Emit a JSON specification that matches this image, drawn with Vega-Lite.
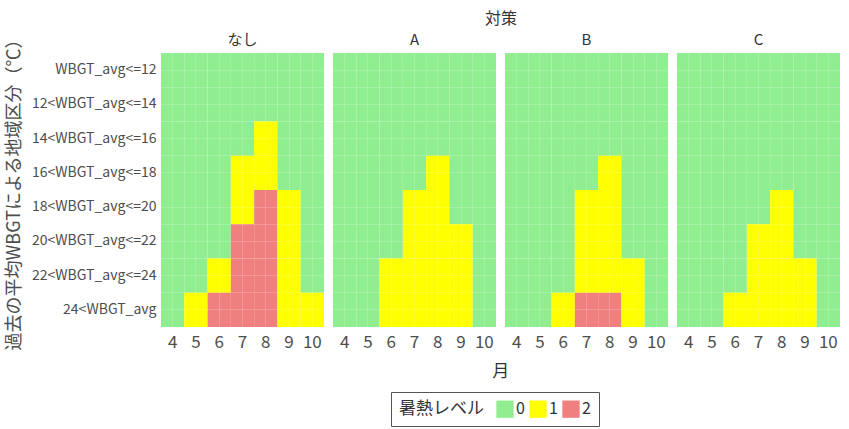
{
"$schema": "https://vega.github.io/schema/vega-lite/v6.json",
"padding": {"left": 5, "top": 11, "right": 8, "bottom": 3},
"title": {"text": "月", "orient": "bottom", "anchor": "middle", "fontSize": 17, "fontWeight": "normal", "color": "#333333", "font": "Noto Sans CJK JP", "offset": -63, "dx": 78},
"data": {"values": [
{"group":"なし","month":4,"zone":"WBGT_avg<=12","level":0},
{"group":"なし","month":4,"zone":"12<WBGT_avg<=14","level":0},
{"group":"なし","month":4,"zone":"14<WBGT_avg<=16","level":0},
{"group":"なし","month":4,"zone":"16<WBGT_avg<=18","level":0},
{"group":"なし","month":4,"zone":"18<WBGT_avg<=20","level":0},
{"group":"なし","month":4,"zone":"20<WBGT_avg<=22","level":0},
{"group":"なし","month":4,"zone":"22<WBGT_avg<=24","level":0},
{"group":"なし","month":4,"zone":"24<WBGT_avg","level":0},
{"group":"なし","month":5,"zone":"WBGT_avg<=12","level":0},
{"group":"なし","month":5,"zone":"12<WBGT_avg<=14","level":0},
{"group":"なし","month":5,"zone":"14<WBGT_avg<=16","level":0},
{"group":"なし","month":5,"zone":"16<WBGT_avg<=18","level":0},
{"group":"なし","month":5,"zone":"18<WBGT_avg<=20","level":0},
{"group":"なし","month":5,"zone":"20<WBGT_avg<=22","level":0},
{"group":"なし","month":5,"zone":"22<WBGT_avg<=24","level":0},
{"group":"なし","month":5,"zone":"24<WBGT_avg","level":1},
{"group":"なし","month":6,"zone":"WBGT_avg<=12","level":0},
{"group":"なし","month":6,"zone":"12<WBGT_avg<=14","level":0},
{"group":"なし","month":6,"zone":"14<WBGT_avg<=16","level":0},
{"group":"なし","month":6,"zone":"16<WBGT_avg<=18","level":0},
{"group":"なし","month":6,"zone":"18<WBGT_avg<=20","level":0},
{"group":"なし","month":6,"zone":"20<WBGT_avg<=22","level":0},
{"group":"なし","month":6,"zone":"22<WBGT_avg<=24","level":1},
{"group":"なし","month":6,"zone":"24<WBGT_avg","level":2},
{"group":"なし","month":7,"zone":"WBGT_avg<=12","level":0},
{"group":"なし","month":7,"zone":"12<WBGT_avg<=14","level":0},
{"group":"なし","month":7,"zone":"14<WBGT_avg<=16","level":0},
{"group":"なし","month":7,"zone":"16<WBGT_avg<=18","level":1},
{"group":"なし","month":7,"zone":"18<WBGT_avg<=20","level":1},
{"group":"なし","month":7,"zone":"20<WBGT_avg<=22","level":2},
{"group":"なし","month":7,"zone":"22<WBGT_avg<=24","level":2},
{"group":"なし","month":7,"zone":"24<WBGT_avg","level":2},
{"group":"なし","month":8,"zone":"WBGT_avg<=12","level":0},
{"group":"なし","month":8,"zone":"12<WBGT_avg<=14","level":0},
{"group":"なし","month":8,"zone":"14<WBGT_avg<=16","level":1},
{"group":"なし","month":8,"zone":"16<WBGT_avg<=18","level":1},
{"group":"なし","month":8,"zone":"18<WBGT_avg<=20","level":2},
{"group":"なし","month":8,"zone":"20<WBGT_avg<=22","level":2},
{"group":"なし","month":8,"zone":"22<WBGT_avg<=24","level":2},
{"group":"なし","month":8,"zone":"24<WBGT_avg","level":2},
{"group":"なし","month":9,"zone":"WBGT_avg<=12","level":0},
{"group":"なし","month":9,"zone":"12<WBGT_avg<=14","level":0},
{"group":"なし","month":9,"zone":"14<WBGT_avg<=16","level":0},
{"group":"なし","month":9,"zone":"16<WBGT_avg<=18","level":0},
{"group":"なし","month":9,"zone":"18<WBGT_avg<=20","level":1},
{"group":"なし","month":9,"zone":"20<WBGT_avg<=22","level":1},
{"group":"なし","month":9,"zone":"22<WBGT_avg<=24","level":1},
{"group":"なし","month":9,"zone":"24<WBGT_avg","level":1},
{"group":"なし","month":10,"zone":"WBGT_avg<=12","level":0},
{"group":"なし","month":10,"zone":"12<WBGT_avg<=14","level":0},
{"group":"なし","month":10,"zone":"14<WBGT_avg<=16","level":0},
{"group":"なし","month":10,"zone":"16<WBGT_avg<=18","level":0},
{"group":"なし","month":10,"zone":"18<WBGT_avg<=20","level":0},
{"group":"なし","month":10,"zone":"20<WBGT_avg<=22","level":0},
{"group":"なし","month":10,"zone":"22<WBGT_avg<=24","level":0},
{"group":"なし","month":10,"zone":"24<WBGT_avg","level":1},
{"group":"A","month":4,"zone":"WBGT_avg<=12","level":0},
{"group":"A","month":4,"zone":"12<WBGT_avg<=14","level":0},
{"group":"A","month":4,"zone":"14<WBGT_avg<=16","level":0},
{"group":"A","month":4,"zone":"16<WBGT_avg<=18","level":0},
{"group":"A","month":4,"zone":"18<WBGT_avg<=20","level":0},
{"group":"A","month":4,"zone":"20<WBGT_avg<=22","level":0},
{"group":"A","month":4,"zone":"22<WBGT_avg<=24","level":0},
{"group":"A","month":4,"zone":"24<WBGT_avg","level":0},
{"group":"A","month":5,"zone":"WBGT_avg<=12","level":0},
{"group":"A","month":5,"zone":"12<WBGT_avg<=14","level":0},
{"group":"A","month":5,"zone":"14<WBGT_avg<=16","level":0},
{"group":"A","month":5,"zone":"16<WBGT_avg<=18","level":0},
{"group":"A","month":5,"zone":"18<WBGT_avg<=20","level":0},
{"group":"A","month":5,"zone":"20<WBGT_avg<=22","level":0},
{"group":"A","month":5,"zone":"22<WBGT_avg<=24","level":0},
{"group":"A","month":5,"zone":"24<WBGT_avg","level":0},
{"group":"A","month":6,"zone":"WBGT_avg<=12","level":0},
{"group":"A","month":6,"zone":"12<WBGT_avg<=14","level":0},
{"group":"A","month":6,"zone":"14<WBGT_avg<=16","level":0},
{"group":"A","month":6,"zone":"16<WBGT_avg<=18","level":0},
{"group":"A","month":6,"zone":"18<WBGT_avg<=20","level":0},
{"group":"A","month":6,"zone":"20<WBGT_avg<=22","level":0},
{"group":"A","month":6,"zone":"22<WBGT_avg<=24","level":1},
{"group":"A","month":6,"zone":"24<WBGT_avg","level":1},
{"group":"A","month":7,"zone":"WBGT_avg<=12","level":0},
{"group":"A","month":7,"zone":"12<WBGT_avg<=14","level":0},
{"group":"A","month":7,"zone":"14<WBGT_avg<=16","level":0},
{"group":"A","month":7,"zone":"16<WBGT_avg<=18","level":0},
{"group":"A","month":7,"zone":"18<WBGT_avg<=20","level":1},
{"group":"A","month":7,"zone":"20<WBGT_avg<=22","level":1},
{"group":"A","month":7,"zone":"22<WBGT_avg<=24","level":1},
{"group":"A","month":7,"zone":"24<WBGT_avg","level":1},
{"group":"A","month":8,"zone":"WBGT_avg<=12","level":0},
{"group":"A","month":8,"zone":"12<WBGT_avg<=14","level":0},
{"group":"A","month":8,"zone":"14<WBGT_avg<=16","level":0},
{"group":"A","month":8,"zone":"16<WBGT_avg<=18","level":1},
{"group":"A","month":8,"zone":"18<WBGT_avg<=20","level":1},
{"group":"A","month":8,"zone":"20<WBGT_avg<=22","level":1},
{"group":"A","month":8,"zone":"22<WBGT_avg<=24","level":1},
{"group":"A","month":8,"zone":"24<WBGT_avg","level":1},
{"group":"A","month":9,"zone":"WBGT_avg<=12","level":0},
{"group":"A","month":9,"zone":"12<WBGT_avg<=14","level":0},
{"group":"A","month":9,"zone":"14<WBGT_avg<=16","level":0},
{"group":"A","month":9,"zone":"16<WBGT_avg<=18","level":0},
{"group":"A","month":9,"zone":"18<WBGT_avg<=20","level":0},
{"group":"A","month":9,"zone":"20<WBGT_avg<=22","level":1},
{"group":"A","month":9,"zone":"22<WBGT_avg<=24","level":1},
{"group":"A","month":9,"zone":"24<WBGT_avg","level":1},
{"group":"A","month":10,"zone":"WBGT_avg<=12","level":0},
{"group":"A","month":10,"zone":"12<WBGT_avg<=14","level":0},
{"group":"A","month":10,"zone":"14<WBGT_avg<=16","level":0},
{"group":"A","month":10,"zone":"16<WBGT_avg<=18","level":0},
{"group":"A","month":10,"zone":"18<WBGT_avg<=20","level":0},
{"group":"A","month":10,"zone":"20<WBGT_avg<=22","level":0},
{"group":"A","month":10,"zone":"22<WBGT_avg<=24","level":0},
{"group":"A","month":10,"zone":"24<WBGT_avg","level":0},
{"group":"B","month":4,"zone":"WBGT_avg<=12","level":0},
{"group":"B","month":4,"zone":"12<WBGT_avg<=14","level":0},
{"group":"B","month":4,"zone":"14<WBGT_avg<=16","level":0},
{"group":"B","month":4,"zone":"16<WBGT_avg<=18","level":0},
{"group":"B","month":4,"zone":"18<WBGT_avg<=20","level":0},
{"group":"B","month":4,"zone":"20<WBGT_avg<=22","level":0},
{"group":"B","month":4,"zone":"22<WBGT_avg<=24","level":0},
{"group":"B","month":4,"zone":"24<WBGT_avg","level":0},
{"group":"B","month":5,"zone":"WBGT_avg<=12","level":0},
{"group":"B","month":5,"zone":"12<WBGT_avg<=14","level":0},
{"group":"B","month":5,"zone":"14<WBGT_avg<=16","level":0},
{"group":"B","month":5,"zone":"16<WBGT_avg<=18","level":0},
{"group":"B","month":5,"zone":"18<WBGT_avg<=20","level":0},
{"group":"B","month":5,"zone":"20<WBGT_avg<=22","level":0},
{"group":"B","month":5,"zone":"22<WBGT_avg<=24","level":0},
{"group":"B","month":5,"zone":"24<WBGT_avg","level":0},
{"group":"B","month":6,"zone":"WBGT_avg<=12","level":0},
{"group":"B","month":6,"zone":"12<WBGT_avg<=14","level":0},
{"group":"B","month":6,"zone":"14<WBGT_avg<=16","level":0},
{"group":"B","month":6,"zone":"16<WBGT_avg<=18","level":0},
{"group":"B","month":6,"zone":"18<WBGT_avg<=20","level":0},
{"group":"B","month":6,"zone":"20<WBGT_avg<=22","level":0},
{"group":"B","month":6,"zone":"22<WBGT_avg<=24","level":0},
{"group":"B","month":6,"zone":"24<WBGT_avg","level":1},
{"group":"B","month":7,"zone":"WBGT_avg<=12","level":0},
{"group":"B","month":7,"zone":"12<WBGT_avg<=14","level":0},
{"group":"B","month":7,"zone":"14<WBGT_avg<=16","level":0},
{"group":"B","month":7,"zone":"16<WBGT_avg<=18","level":0},
{"group":"B","month":7,"zone":"18<WBGT_avg<=20","level":1},
{"group":"B","month":7,"zone":"20<WBGT_avg<=22","level":1},
{"group":"B","month":7,"zone":"22<WBGT_avg<=24","level":1},
{"group":"B","month":7,"zone":"24<WBGT_avg","level":2},
{"group":"B","month":8,"zone":"WBGT_avg<=12","level":0},
{"group":"B","month":8,"zone":"12<WBGT_avg<=14","level":0},
{"group":"B","month":8,"zone":"14<WBGT_avg<=16","level":0},
{"group":"B","month":8,"zone":"16<WBGT_avg<=18","level":1},
{"group":"B","month":8,"zone":"18<WBGT_avg<=20","level":1},
{"group":"B","month":8,"zone":"20<WBGT_avg<=22","level":1},
{"group":"B","month":8,"zone":"22<WBGT_avg<=24","level":1},
{"group":"B","month":8,"zone":"24<WBGT_avg","level":2},
{"group":"B","month":9,"zone":"WBGT_avg<=12","level":0},
{"group":"B","month":9,"zone":"12<WBGT_avg<=14","level":0},
{"group":"B","month":9,"zone":"14<WBGT_avg<=16","level":0},
{"group":"B","month":9,"zone":"16<WBGT_avg<=18","level":0},
{"group":"B","month":9,"zone":"18<WBGT_avg<=20","level":0},
{"group":"B","month":9,"zone":"20<WBGT_avg<=22","level":0},
{"group":"B","month":9,"zone":"22<WBGT_avg<=24","level":1},
{"group":"B","month":9,"zone":"24<WBGT_avg","level":1},
{"group":"B","month":10,"zone":"WBGT_avg<=12","level":0},
{"group":"B","month":10,"zone":"12<WBGT_avg<=14","level":0},
{"group":"B","month":10,"zone":"14<WBGT_avg<=16","level":0},
{"group":"B","month":10,"zone":"16<WBGT_avg<=18","level":0},
{"group":"B","month":10,"zone":"18<WBGT_avg<=20","level":0},
{"group":"B","month":10,"zone":"20<WBGT_avg<=22","level":0},
{"group":"B","month":10,"zone":"22<WBGT_avg<=24","level":0},
{"group":"B","month":10,"zone":"24<WBGT_avg","level":0},
{"group":"C","month":4,"zone":"WBGT_avg<=12","level":0},
{"group":"C","month":4,"zone":"12<WBGT_avg<=14","level":0},
{"group":"C","month":4,"zone":"14<WBGT_avg<=16","level":0},
{"group":"C","month":4,"zone":"16<WBGT_avg<=18","level":0},
{"group":"C","month":4,"zone":"18<WBGT_avg<=20","level":0},
{"group":"C","month":4,"zone":"20<WBGT_avg<=22","level":0},
{"group":"C","month":4,"zone":"22<WBGT_avg<=24","level":0},
{"group":"C","month":4,"zone":"24<WBGT_avg","level":0},
{"group":"C","month":5,"zone":"WBGT_avg<=12","level":0},
{"group":"C","month":5,"zone":"12<WBGT_avg<=14","level":0},
{"group":"C","month":5,"zone":"14<WBGT_avg<=16","level":0},
{"group":"C","month":5,"zone":"16<WBGT_avg<=18","level":0},
{"group":"C","month":5,"zone":"18<WBGT_avg<=20","level":0},
{"group":"C","month":5,"zone":"20<WBGT_avg<=22","level":0},
{"group":"C","month":5,"zone":"22<WBGT_avg<=24","level":0},
{"group":"C","month":5,"zone":"24<WBGT_avg","level":0},
{"group":"C","month":6,"zone":"WBGT_avg<=12","level":0},
{"group":"C","month":6,"zone":"12<WBGT_avg<=14","level":0},
{"group":"C","month":6,"zone":"14<WBGT_avg<=16","level":0},
{"group":"C","month":6,"zone":"16<WBGT_avg<=18","level":0},
{"group":"C","month":6,"zone":"18<WBGT_avg<=20","level":0},
{"group":"C","month":6,"zone":"20<WBGT_avg<=22","level":0},
{"group":"C","month":6,"zone":"22<WBGT_avg<=24","level":0},
{"group":"C","month":6,"zone":"24<WBGT_avg","level":1},
{"group":"C","month":7,"zone":"WBGT_avg<=12","level":0},
{"group":"C","month":7,"zone":"12<WBGT_avg<=14","level":0},
{"group":"C","month":7,"zone":"14<WBGT_avg<=16","level":0},
{"group":"C","month":7,"zone":"16<WBGT_avg<=18","level":0},
{"group":"C","month":7,"zone":"18<WBGT_avg<=20","level":0},
{"group":"C","month":7,"zone":"20<WBGT_avg<=22","level":1},
{"group":"C","month":7,"zone":"22<WBGT_avg<=24","level":1},
{"group":"C","month":7,"zone":"24<WBGT_avg","level":1},
{"group":"C","month":8,"zone":"WBGT_avg<=12","level":0},
{"group":"C","month":8,"zone":"12<WBGT_avg<=14","level":0},
{"group":"C","month":8,"zone":"14<WBGT_avg<=16","level":0},
{"group":"C","month":8,"zone":"16<WBGT_avg<=18","level":0},
{"group":"C","month":8,"zone":"18<WBGT_avg<=20","level":1},
{"group":"C","month":8,"zone":"20<WBGT_avg<=22","level":1},
{"group":"C","month":8,"zone":"22<WBGT_avg<=24","level":1},
{"group":"C","month":8,"zone":"24<WBGT_avg","level":1},
{"group":"C","month":9,"zone":"WBGT_avg<=12","level":0},
{"group":"C","month":9,"zone":"12<WBGT_avg<=14","level":0},
{"group":"C","month":9,"zone":"14<WBGT_avg<=16","level":0},
{"group":"C","month":9,"zone":"16<WBGT_avg<=18","level":0},
{"group":"C","month":9,"zone":"18<WBGT_avg<=20","level":0},
{"group":"C","month":9,"zone":"20<WBGT_avg<=22","level":0},
{"group":"C","month":9,"zone":"22<WBGT_avg<=24","level":1},
{"group":"C","month":9,"zone":"24<WBGT_avg","level":1},
{"group":"C","month":10,"zone":"WBGT_avg<=12","level":0},
{"group":"C","month":10,"zone":"12<WBGT_avg<=14","level":0},
{"group":"C","month":10,"zone":"14<WBGT_avg<=16","level":0},
{"group":"C","month":10,"zone":"16<WBGT_avg<=18","level":0},
{"group":"C","month":10,"zone":"18<WBGT_avg<=20","level":0},
{"group":"C","month":10,"zone":"20<WBGT_avg<=22","level":0},
{"group":"C","month":10,"zone":"22<WBGT_avg<=24","level":0},
{"group":"C","month":10,"zone":"24<WBGT_avg","level":0}
]},
"facet": {
  "column": {
    "field": "group", "type": "nominal", "sort": ["なし", "A", "B", "C"], "title": "対策",
    "header": {"titleFontSize": 16, "titleColor": "#333333", "titleFont": "Noto Sans CJK JP", "titleFontWeight": "normal", "titlePadding": -4,
               "labelFontSize": 15, "labelColor": "#333333", "labelFont": "Noto Sans CJK JP", "labelPadding": 5}
  }
},
"spacing": 9,
"spec": {
  "width": 163,
  "height": 274,
  "mark": {"type": "rect"},
  "encoding": {
    "x": {"field": "month", "type": "ordinal", "title": null,
          "axis": {"labelAngle": 0, "labelFontSize": 17, "labelColor": "#4d4d4d", "labelPadding": 7, "ticks": false, "domain": false,
                   "grid": true, "gridColor": "#ffffff", "gridOpacity": 0.18, "bandPosition": 0.5, "zindex": 1}},
    "y": {"field": "zone", "type": "nominal",
          "sort": ["WBGT_avg<=12", "12<WBGT_avg<=14", "14<WBGT_avg<=16", "16<WBGT_avg<=18", "18<WBGT_avg<=20", "20<WBGT_avg<=22", "22<WBGT_avg<=24", "24<WBGT_avg"],
          "title": "過去の平均WBGTによる地域区分（℃）",
          "axis": {"labelFontSize": 14, "labelColor": "#4d4d4d", "labelPadding": 5, "ticks": false, "domain": false,
                   "grid": true, "gridColor": "#ffffff", "gridOpacity": 0.18, "bandPosition": 0.5, "zindex": 1,
                   "titleFontSize": 18, "titleColor": "#4d4d4d", "titleFontWeight": "normal", "titlePadding": 8}},
    "color": {"field": "level", "type": "nominal",
              "scale": {"domain": [0, 1, 2], "range": ["#90EE90", "#FFFF00", "#F08080"]},
              "legend": {"title": "暑熱レベル", "orient": "none", "legendX": 230, "legendY": 339, "direction": "horizontal", "titleOrient": "left",
                         "titleFontSize": 17, "titleFontWeight": "normal", "titleColor": "#333333", "titlePadding": 12,
                         "labelFontSize": 16, "labelColor": "#333333", "labelOffset": 2,
                         "symbolType": "square", "symbolSize": 300, "symbolStrokeWidth": 0, "symbolOpacity": 1,
                         "strokeColor": "#555555", "padding": 8, "columnPadding": 4}}
  }
},
"config": {
  "font": "Noto Sans CJK JP",
  "view": {"stroke": null},
  "axis": {"labelFont": "Noto Sans CJK JP", "titleFont": "Noto Sans CJK JP"},
  "legend": {"labelFont": "Noto Sans CJK JP", "titleFont": "Noto Sans CJK JP"}
}
}
